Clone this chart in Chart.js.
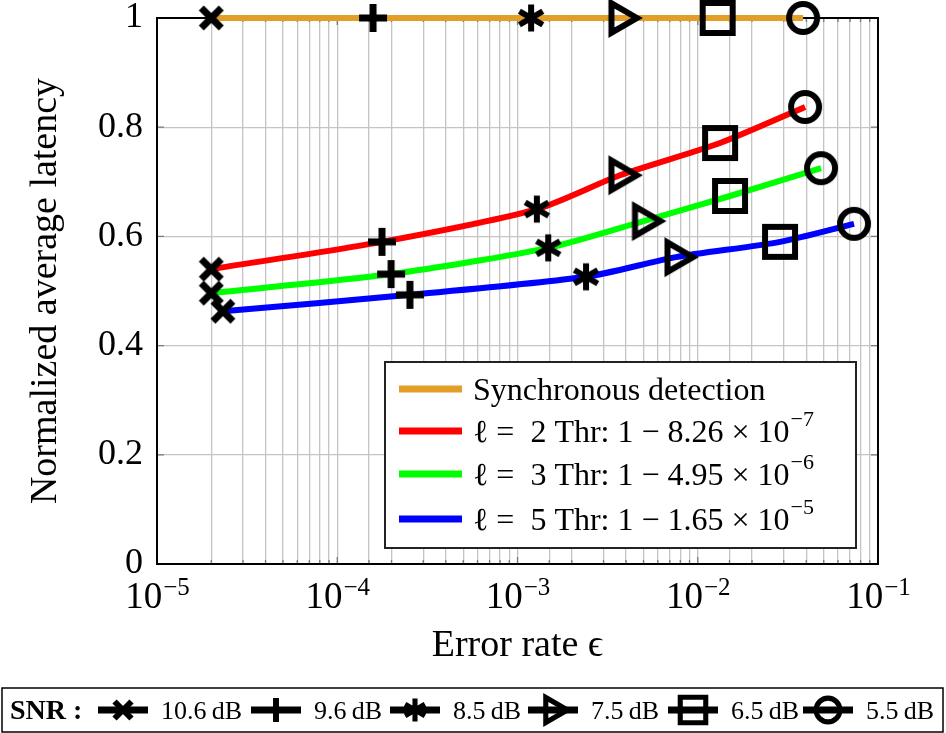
<!DOCTYPE html>
<html>
<head>
<meta charset="utf-8">
<script src="https://cdn.jsdelivr.net/npm/chart.js@4.4.0/dist/chart.umd.min.js"></script>
<style>
  body { margin: 0; background: #fff; }
  canvas { display: block; }
</style>
</head>
<body>
<canvas id="latencyChart" width="946" height="733"></canvas>
<script>
// SNR values (one marker per SNR)
const snrLabels = ['10.6\u2009dB', '9.6\u2009dB', '8.5\u2009dB', '7.5\u2009dB', '6.5\u2009dB', '5.5\u2009dB'];
const markerKinds = ['x', 'plus', 'asterisk', 'triangle', 'square', 'circle'];

// Synchronous detection
const syncErr = [2e-5, 1.58e-4, 1.19e-3, 3.7e-3, 1.29e-2, 3.84e-2];
const syncLat = [1, 1, 1, 1, 1, 1];
// l = 2
const l2Err = [2e-5, 1.77e-4, 1.28e-3, 3.7e-3, 1.33e-2, 3.94e-2];
const l2Lat = [0.540, 0.590, 0.650, 0.712, 0.771, 0.837];
// l = 3
const l3Err = [2e-5, 1.99e-4, 1.48e-3, 5.0e-3, 1.51e-2, 4.83e-2];
const l3Lat = [0.496, 0.531, 0.579, 0.628, 0.674, 0.725];
// l = 5
const l5Err = [2.32e-5, 2.53e-4, 2.40e-3, 7.57e-3, 2.86e-2, 7.36e-2];
const l5Lat = [0.463, 0.493, 0.526, 0.562, 0.590, 0.623];

// legend text pieces
const windowSizes = [2, 3, 5];
const thrMantissa = ['8.26', '4.95', '1.65'];
const thrExp = ['\u22127', '\u22126', '\u22125'];

// axis ticks
const xTickPowers = [-5, -4, -3, -2, -1];
const yTicks = [0, 0.2, 0.4, 0.6, 0.8, 1];

const colors = ['#e39e28', '#ff0000', '#00ff00', '#0000ff'];
const serif = '"Liberation Serif", "DejaVu Serif", serif';

// Draw one pgfplots-like marker
function drawMarker(ctx, kind, x, y, s) {
    ctx.save();
    ctx.strokeStyle = '#000';
    ctx.lineWidth = 6 * s;
    ctx.lineJoin = 'miter';
    ctx.beginPath();
    if (kind === 'x') {
        const d = 10 * s;
        ctx.moveTo(x - d, y - d); ctx.lineTo(x + d, y + d);
        ctx.moveTo(x - d, y + d); ctx.lineTo(x + d, y - d);
        ctx.lineWidth = 7 * s;
    } else if (kind === 'plus') {
        const d = 14 * s;
        ctx.moveTo(x - d, y); ctx.lineTo(x + d, y);
        ctx.moveTo(x, y - d); ctx.lineTo(x, y + d);
        ctx.lineWidth = 7 * s;
    } else if (kind === 'asterisk') {
        const d = 13.5 * s;
        [90, 30, -30].forEach(a => {
            const r = a * Math.PI / 180;
            ctx.moveTo(x - Math.cos(r) * d, y - Math.sin(r) * d);
            ctx.lineTo(x + Math.cos(r) * d, y + Math.sin(r) * d);
        });
        ctx.lineWidth = 6 * s;
    } else if (kind === 'triangle') {
        const R = 17 * s;
        ctx.moveTo(x + R, y);
        ctx.lineTo(x - R / 2, y - R * 0.866);
        ctx.lineTo(x - R / 2, y + R * 0.866);
        ctx.closePath();
    } else if (kind === 'square') {
        const h = 15 * s;
        ctx.rect(x - h, y - h, 2 * h, 2 * h);
    } else if (kind === 'circle') {
        ctx.arc(x, y, 14 * s, 0, Math.PI * 2);
    }
    ctx.stroke();
    ctx.restore();
}

// Marker images used as point styles
const markerImages = markerKinds.map(kind => {
    const c = document.createElement('canvas');
    c.width = 50; c.height = 50;
    drawMarker(c.getContext('2d'), kind, 25, 25, 1);
    return c;
});

function series(label, xs, ys, color) {
    return {
        label: label,
        data: xs.map((x, i) => ({ x: x, y: ys[i] })),
        borderColor: color,
        borderWidth: 6,
        tension: 0.25,
        pointStyle: markerImages,
        pointRadius: 12,
        fill: false,
        clip: false,
    };
}

const decorations = {
    id: 'decorations',
    beforeDatasetsDraw(chart) {
        const { ctx, chartArea: a, scales } = chart;
        ctx.save();
        // inner tick marks
        ctx.strokeStyle = '#7a7a7a';
        ctx.lineWidth = 1.3;
        ctx.beginPath();
        scales.x.ticks.forEach(t => {
            const px = scales.x.getPixelForValue(t.value);
            const len = t.major ? 7 : 4;
            ctx.moveTo(px, a.bottom); ctx.lineTo(px, a.bottom - len);
            ctx.moveTo(px, a.top); ctx.lineTo(px, a.top + len);
        });
        scales.y.ticks.forEach(t => {
            const py = scales.y.getPixelForValue(t.value);
            ctx.moveTo(a.left, py); ctx.lineTo(a.left + 7, py);
            ctx.moveTo(a.right, py); ctx.lineTo(a.right - 7, py);
        });
        ctx.stroke();
        ctx.strokeStyle = '#000';
        ctx.lineWidth = 2;
        ctx.strokeRect(a.left, a.top, a.right - a.left, a.bottom - a.top);
        ctx.restore();
    },
    afterDraw(chart) {
        const { ctx, scales } = chart;
        ctx.save();
        ctx.fillStyle = '#000';

        // x tick labels 10^p
        xTickPowers.forEach(p => {
            const px = scales.x.getPixelForValue(Math.pow(10, p));
            const sup = '\u2212' + Math.abs(p);
            ctx.font = '37px ' + serif;
            const w1 = ctx.measureText('10').width;
            ctx.font = '25px ' + serif;
            const w2 = ctx.measureText(sup).width;
            const x0 = px - (w1 + w2) / 2;
            ctx.textAlign = 'left';
            ctx.textBaseline = 'alphabetic';
            ctx.font = '37px ' + serif;
            ctx.fillText('10', x0, 608);
            ctx.font = '25px ' + serif;
            ctx.fillText(sup, x0 + w1 + 1, 595);
        });

        // inner legend
        ctx.fillStyle = '#fff';
        ctx.fillRect(385, 362, 471, 186);
        ctx.strokeStyle = '#222';
        ctx.lineWidth = 2;
        ctx.strokeRect(385, 362, 471, 186);
        const rows = [389, 431, 474, 519];
        rows.forEach((ry, i) => {
            ctx.strokeStyle = colors[i];
            ctx.lineWidth = 7;
            ctx.beginPath();
            ctx.moveTo(399, ry); ctx.lineTo(462, ry);
            ctx.stroke();
            ctx.fillStyle = '#000';
            ctx.font = '32px ' + serif;
            if (i === 0) {
                ctx.fillText('Synchronous detection', 473, ry + 11);
            } else {
                const main = '\u2113 =  ' + windowSizes[i - 1] + ' Thr: 1 \u2212 ' + thrMantissa[i - 1] + ' \u00d7 10';
                ctx.fillText(main, 473, ry + 11);
                const w = ctx.measureText(main).width;
                ctx.font = '22px ' + serif;
                ctx.fillText(thrExp[i - 1], 473 + w + 1, ry - 5);
            }
        });

        // SNR legend
        ctx.fillStyle = '#fff';
        ctx.fillRect(2, 688, 941, 44);
        ctx.strokeStyle = '#000';
        ctx.lineWidth = 1.5;
        ctx.strokeRect(2, 688, 941, 44);
        ctx.fillStyle = '#000';
        ctx.font = 'bold 28px ' + serif;
        ctx.fillText('SNR :', 10, 719);
        const centers = [123, 276, 415, 553, 693, 828];
        centers.forEach((cx, i) => {
            ctx.strokeStyle = '#000';
            ctx.lineWidth = 7;
            ctx.beginPath();
            ctx.moveTo(cx - 25, 710); ctx.lineTo(cx + 25, 710);
            ctx.stroke();
            drawMarker(ctx, markerKinds[i], cx, 710, 0.85);
            ctx.fillStyle = '#000';
            ctx.font = '26px ' + serif;
            ctx.fillText(snrLabels[i], cx + 38, 719);
        });
        ctx.restore();
    }
};

const ctx = document.getElementById('latencyChart').getContext('2d');
new Chart(ctx, {
    type: 'line',
    data: {
        datasets: [
            series('Synchronous detection', syncErr, syncLat, colors[0]),
            series('l = 2', l2Err, l2Lat, colors[1]),
            series('l = 3', l3Err, l3Lat, colors[2]),
            series('l = 5', l5Err, l5Lat, colors[3]),
        ],
    },
    options: {
        responsive: false,
        animation: false,
        layout: { padding: { left: 0, right: 68, top: 18, bottom: 0 } },
        plugins: {
            legend: { display: false },
            tooltip: { enabled: false },
        },
        scales: {
            x: {
                type: 'logarithmic',
                min: 1e-5,
                max: 1e-1,
                ticks: { display: false },
                grid: { color: '#c4c4c4', lineWidth: 1.3, drawTicks: false },
                border: { display: false },
                title: {
                    display: true,
                    text: 'Error rate \u03f5',
                    font: { family: serif, size: 38 },
                    color: '#000',
                    padding: { top: 0, bottom: 64 },
                },
                afterFit: s => { s.height = 169; s.paddingLeft = 0; s.paddingRight = 0; },
            },
            y: {
                min: 0,
                max: 1,
                afterBuildTicks: s => { s.ticks = yTicks.map(v => ({ value: v })); },
                ticks: {
                    color: '#000',
                    padding: 14,
                    font: { family: serif, size: 36 },
                    callback: v => String(v),
                },
                grid: { color: '#c4c4c4', lineWidth: 1.3, drawTicks: false },
                border: { display: false },
                title: {
                    display: true,
                    text: 'Normalized average latency',
                    font: { family: serif, size: 38 },
                    color: '#000',
                    padding: { top: 23, bottom: 0 },
                },
                afterFit: s => { s.width = 157; s.paddingTop = 0; s.paddingBottom = 0; },
            },
        },
    },
    plugins: [decorations],
});
</script>
</body>
</html>
